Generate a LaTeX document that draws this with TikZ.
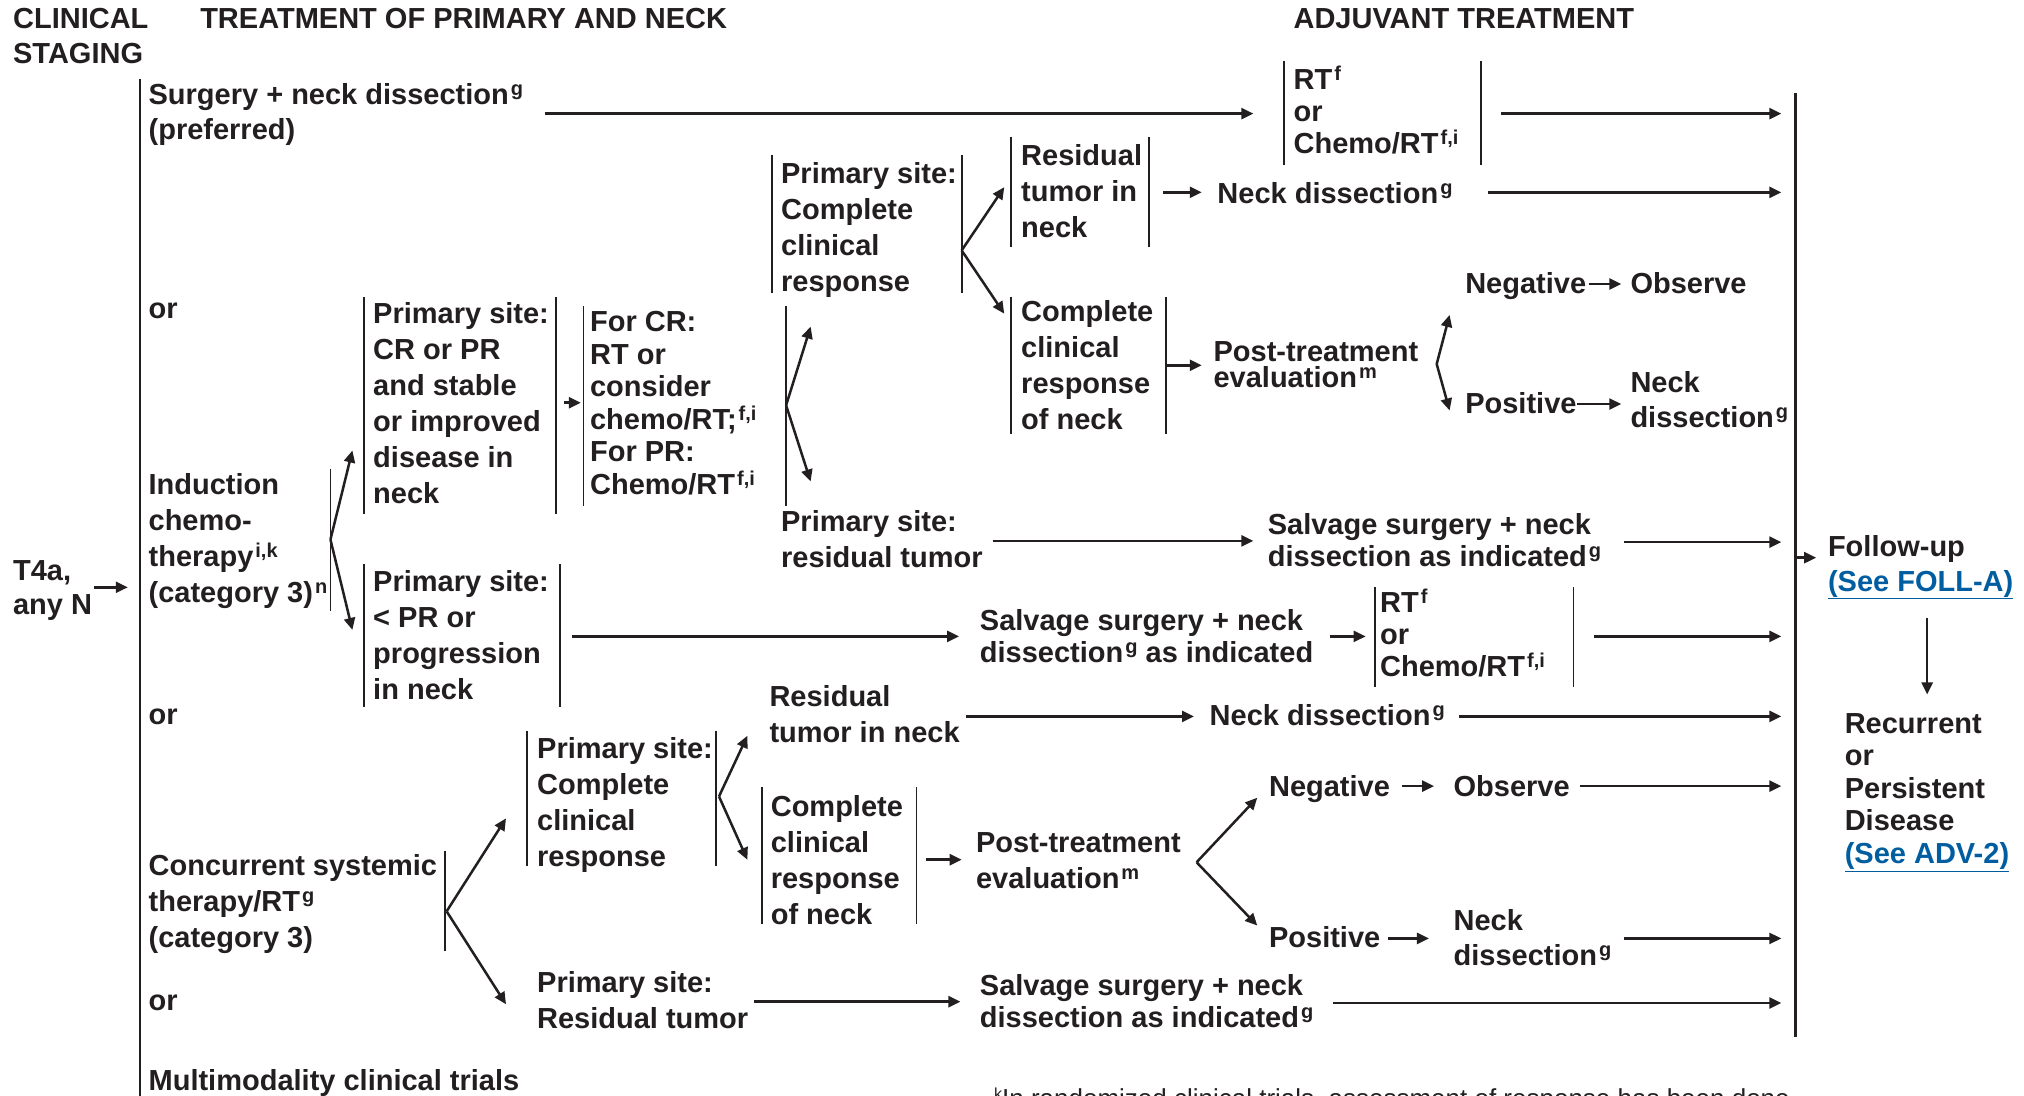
\documentclass[tikz,border=0pt]{standalone}
\usepackage{fontspec}
\setmainfont{Liberation Sans}
\usetikzlibrary{arrows.meta}
\definecolor{ink}{RGB}{35,31,32}
\definecolor{linkblue}{RGB}{0,94,160}
% footnote-style superscript and blue underlined cross-reference
\newcommand\sps[1]{\kern2pt\raisebox{9pt}{\fontsize{20}{20}\selectfont #1}}
\newcommand\lnk[1]{{\color{linkblue}\underline{#1}}}
% nodes are placed by the baseline of their last line
\tikzset{
  lbl/.style={font=\bfseries\fontsize{29}{#1}\selectfont, text=ink, anchor=base west, inner sep=0pt, align=left},
  lbl/.default=36,
  bar/.style={draw=ink, line width=1.9pt},
  spine/.style={draw=ink, line width=2.8pt},
  arr/.style={draw=ink, line width=2.5pt, -{Triangle[length=12pt,width=11pt]}},
}
\begin{document}
\begin{tikzpicture}[x=1.2908pt, y=-1.2908pt]
\useasboundingbox[fill=white] (0,0) rectangle (1568,849);

% ---------- column headings ----------
\node[lbl=35] (hclin)  at (10,49)   {CLINICAL\\STAGING};
\node[lbl]    (htreat) at (155,22)  {TREATMENT OF PRIMARY AND NECK};
\node[lbl]    (hadj)   at (1002,22) {ADJUVANT TREATMENT};

% ---------- entry and main options ----------
\node[lbl=34] (t4a)   at (10,476)  {T4a,\\any N};
\draw[arr] (73,455) -- (99,455);
\draw[spine] (108.5,61) -- (108.5,860);

\node[lbl=35] (surg)  at (115,108) {Surgery + neck dissection\sps{g}\\(preferred)};
\node[lbl]    (or1)   at (115,247) {or};
\node[lbl]    (induc) at (115,467) {Induction\\chemo-\\therapy\sps{i,k}\\(category 3)\sps{n}};
\node[lbl]    (or2)   at (115,561) {or};
\node[lbl]    (conc)  at (115,734) {Concurrent systemic\\therapy/RT\sps{g}\\(category 3)};
\node[lbl]    (or3)   at (115,783) {or};
\node[lbl]    (multi) at (115,845) {Multimodality clinical trials};

% ---------- surgery row ----------
\draw[arr] (422,88) -- (971,88);
\node[lbl=32.3] (rtA) at (1002,119) {RT\sps{f}\\or\\Chemo/RT\sps{f,i}};
\draw[bar] (995,47) -- (995,128);
\draw[bar] (1147,47) -- (1147,128);
\draw[arr] (1163,88) -- (1380,88);

% ---------- induction chemotherapy ----------
\draw[bar] (256,363) -- (256,473);
\draw[arr] (256,418) -- (273,349);
\draw[arr] (256,418) -- (273,488);

\node[lbl] (crpr) at (289,390) {Primary site:\\CR or PR\\and stable\\or improved\\disease in\\neck};
\draw[bar] (282,230) -- (282,398);
\draw[bar] (431,230) -- (431,398);
\draw[arr] (437,312) -- (450,312);

\node[lbl=32.5] (forcr) at (457,383) {For CR:\\RT or\\consider\\chemo/RT;\sps{f,i}\\For PR:\\Chemo/RT\sps{f,i}};
\draw[bar] (452,237) -- (452,392);
\draw[bar] (609,237) -- (609,392);
\draw[arr] (609,314) -- (628,253);
\draw[arr] (609,314) -- (628,373);

\node[lbl] (pcc1) at (605,226) {Primary site:\\Complete\\clinical\\response};
\draw[bar] (598,120) -- (598,227);
\draw[bar] (745,120) -- (745,227);
\draw[arr] (745,194) -- (778,145);
\draw[arr] (745,194) -- (778,243);

\node[lbl] (resneck) at (791,184) {Residual\\tumor in\\neck};
\draw[bar] (783,106) -- (783,191);
\draw[bar] (890,106) -- (890,191);
\draw[arr] (901,149) -- (931,149);
\node[lbl] (nd1) at (943,158) {Neck dissection\sps{g}};
\draw[arr] (1153,149) -- (1380,149);

\node[lbl] (ccneck1) at (791,333) {Complete\\clinical\\response\\of neck};
\draw[bar] (783,230) -- (783,336);
\draw[bar] (903,230) -- (903,336);
\draw[arr] (904,283) -- (931,283);
\node[lbl=26] (pte1) at (940,300) {Post-treatment\\evaluation\sps{m}};
\draw[arr] (1113,282) -- (1123,244);
\draw[arr] (1113,282) -- (1123,318);
\node[lbl] (neg1) at (1135,227) {Negative};
\draw[arr] (1231,220) -- (1256,220);
\node[lbl] (obs1) at (1263,227) {Observe};
\node[lbl] (pos1) at (1135,320) {Positive};
\draw[arr] (1222,313) -- (1256,313);
\node[lbl=35] (nd2) at (1263,331) {Neck\\dissection\sps{g}};

\node[lbl] (prt1) at (605,440) {Primary site:\\residual tumor};
\draw[arr] (769,419) -- (971,419);
\node[lbl=32] (salv1) at (982,439) {Salvage surgery + neck\\dissection as indicated\sps{g}};
\draw[arr] (1258,420) -- (1380,420);

\node[lbl] (ltpr) at (289,542) {Primary site:\\< PR or\\progression\\in neck};
\draw[bar] (282,437) -- (282,548);
\draw[bar] (434,437) -- (434,548);
\draw[arr] (443,493) -- (743,493);
\node[lbl=32] (salv2) at (759,513) {Salvage surgery + neck\\dissection\sps{g} as indicated};
\draw[arr] (1030,493) -- (1058,493);
\node[lbl=32] (rtB) at (1069,524) {RT\sps{f}\\or\\Chemo/RT\sps{f,i}};
\draw[bar] (1065,455) -- (1065,532);
\draw[bar] (1219,455) -- (1219,532);
\draw[arr] (1235,493) -- (1380,493);

% ---------- concurrent systemic therapy/RT ----------
\draw[bar] (345,659) -- (345,737);
\draw[arr] (346,706) -- (392,634);
\draw[arr] (346,706) -- (392,778);

\node[lbl] (pcc2) at (416,671) {Primary site:\\Complete\\clinical\\response};
\draw[bar] (408,566) -- (408,671);
\draw[bar] (555,566) -- (555,671);
\draw[arr] (557,617) -- (579,570);
\draw[arr] (557,617) -- (579,666);

\node[lbl] (res2) at (596,575) {Residual\\tumor in neck};
\draw[arr] (748,555) -- (925,555);
\node[lbl] (nd3) at (937,562) {Neck dissection\sps{g}};
\draw[arr] (1130,555) -- (1380,555);

\node[lbl] (ccneck2) at (597,716) {Complete\\clinical\\response\\of neck};
\draw[bar] (590,610) -- (590,716);
\draw[bar] (710,610) -- (710,716);
\draw[arr] (717,666) -- (745,666);
\node[lbl] (pte2) at (756,688) {Post-treatment\\evaluation\sps{m}};
\draw[arr] (927,668) -- (974,618);
\draw[arr] (927,668) -- (974,717);
\node[lbl] (neg2) at (983,617) {Negative};
\draw[arr] (1086,609) -- (1111,609);
\node[lbl] (obs2) at (1126,617) {Observe};
\draw[arr] (1224,609) -- (1380,609);
\node[lbl] (pos2) at (983,734) {Positive};
\draw[arr] (1075,727) -- (1107,727);
\node[lbl=35] (nd4) at (1126,748) {Neck\\dissection\sps{g}};
\draw[arr] (1258,727) -- (1380,727);

\node[lbl] (prt2) at (416,797) {Primary site:\\Residual tumor};
\draw[arr] (584,776) -- (744,776);
\node[lbl=32] (salv3) at (759,796) {Salvage surgery + neck\\dissection as indicated\sps{g}};
\draw[arr] (1033,777) -- (1380,777);

% ---------- follow-up ----------
\draw[spine] (1391,72) -- (1391,803);
\draw[arr] (1392,432) -- (1407,432);
\node[lbl=35] (flw) at (1416,458) {Follow-up\\\lnk{(See FOLL-A)}};
\draw[arr] (1493,479) -- (1493,538);
\node[lbl=32.6] (rec) at (1429,669) {Recurrent\\or\\Persistent\\Disease\\\lnk{(See ADV-2)}};

% ---------- footnote (runs off the page) ----------
\begin{scope}
\clip (0,0) rectangle (1568,849);
\node[anchor=base west, inner sep=0pt, text=ink, font=\fontsize{26}{30}\selectfont] (fnk) at (770,858)
  {\raisebox{8pt}{\fontsize{16}{16}\selectfont k}In randomized clinical trials, assessment of response has been done};
\end{scope}
\end{tikzpicture}
\end{document}
